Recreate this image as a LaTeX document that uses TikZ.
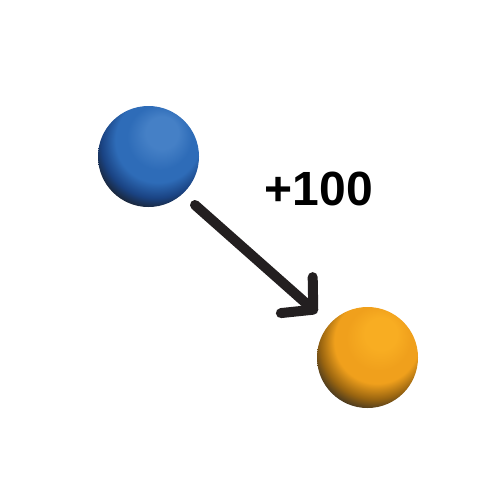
\documentclass[tikz,border=0pt]{standalone}
\usepackage{fontspec}
\setmainfont{Liberation Sans}
\usetikzlibrary{arrows.meta}
\definecolor{blueBase}{HTML}{2E6CB8}
\definecolor{blueLight}{HTML}{4580C6}
\definecolor{blueDark}{HTML}{1A4383}
\definecolor{orangeBase}{HTML}{F0A01C}
\definecolor{orangeLight}{HTML}{F8AD22}
\definecolor{orangeDark}{HTML}{9A6510}
\definecolor{arrowInk}{HTML}{231F20}
\pgfdeclareradialshading{blueball}{\pgfpoint{8bp}{14bp}}{color(0bp)=(blueLight); color(8bp)=(blueLight); color(16bp)=(blueBase); color(21bp)=(blueBase); color(27bp)=(blueDark); color(33bp)=(black!90); color(50bp)=(black!90)}
\pgfdeclareradialshading{orangeball}{\pgfpoint{8bp}{14bp}}{color(0bp)=(orangeLight); color(8bp)=(orangeLight); color(16bp)=(orangeBase); color(21bp)=(orangeBase); color(27bp)=(orangeDark); color(33bp)=(black!85); color(50bp)=(black!85)}
\tikzset{
  sphere/.style={circle, minimum size=101pt, inner sep=0pt},
  pointer/.style={line width=10pt, line cap=round, draw=arrowInk,
    -{Straight Barb[length=22pt, width=48pt, line width=10pt, round]}},
  label/.style={font=\bfseries\fontsize{48}{48}\selectfont, inner sep=0pt, anchor=base}
}
\begin{document}
\begin{tikzpicture}[x=1pt, y=-1pt]
\useasboundingbox (0,0) rectangle (501,501);
\fill[white] (0,0) rectangle (501,501);
\node[sphere, shading=blueball] (blue) at (148.5,156.5) {};
\node[sphere, shading=orangeball] (orange) at (367.5,357.5) {};
\node[label] (score) at (319,205) {+100};
\coordinate (start) at (195,205);
\coordinate (tip) at (317,313);
\draw[pointer] (start) -- (tip);
\end{tikzpicture}
\end{document}
